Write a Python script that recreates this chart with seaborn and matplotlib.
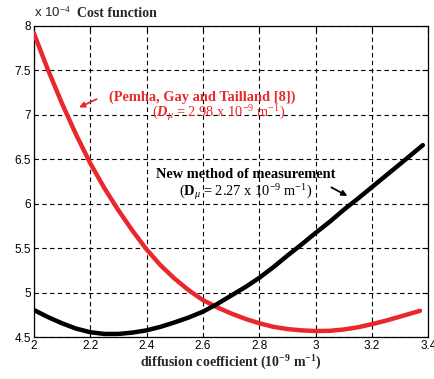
import matplotlib
matplotlib.use('Agg')
import matplotlib.pyplot as plt
import seaborn as sns
import pandas as pd

# cost function values, in units of 1e-4
x_red = [2.0, 2.05, 2.1, 2.15, 2.2, 2.25, 2.3, 2.35, 2.4, 2.45, 2.5, 2.55, 2.6, 2.65, 2.7,
         2.75, 2.8, 2.85, 2.9, 2.95, 3.0, 3.05, 3.1, 3.15, 3.2, 3.25, 3.3, 3.37]
cost_red = [7.92, 7.51, 7.13, 6.78, 6.46, 6.18, 5.93, 5.70, 5.49, 5.31, 5.16, 5.03, 4.92, 4.84, 4.77,
            4.71, 4.66, 4.62, 4.595, 4.58, 4.573, 4.575, 4.59, 4.615, 4.65, 4.69, 4.735, 4.80]

x_black = [2.0, 2.05, 2.1, 2.15, 2.2, 2.25, 2.3, 2.35, 2.4, 2.45, 2.5, 2.55, 2.6, 2.65, 2.7,
           2.75, 2.8, 2.85, 2.9, 2.95, 3.0, 3.05, 3.1, 3.15, 3.2, 3.25, 3.3, 3.38]
cost_black = [4.81, 4.73, 4.66, 4.60, 4.56, 4.54, 4.54, 4.555, 4.58, 4.62, 4.67, 4.725, 4.79, 4.875, 4.97,
              5.065, 5.17, 5.29, 5.42, 5.545, 5.675, 5.80, 5.935, 6.06, 6.19, 6.32, 6.45, 6.66]

xticks = [2, 2.2, 2.4, 2.6, 2.8, 3, 3.2, 3.4]
xticklabels = ['2', '2.2', '2.4', '2.6', '2.8', '3', '3.2', '3.4']
yticks = [4.5, 5, 5.5, 6, 6.5, 7, 7.5, 8]
yticklabels = ['4.5', '5', '5.5', '6', '6.5', '7', '7.5', '8']

sns.set_style('white')
plt.rcParams['font.family'] = ['Liberation Sans', 'DejaVu Sans']
plt.rcParams['mathtext.fontset'] = 'custom'
plt.rcParams['mathtext.rm'] = 'Liberation Serif'
plt.rcParams['mathtext.it'] = 'Liberation Serif:italic'
plt.rcParams['mathtext.bf'] = 'Liberation Serif:bold'
plt.rcParams['mathtext.bfit'] = 'Liberation Serif:bold:italic'

red = '#e8282b'
serif = 'Liberation Serif'

fig = plt.figure(figsize=(4.35, 3.79), dpi=100)
ax = fig.add_axes([0.0775, 0.1095, 0.9075, 0.8225])

df_red = pd.DataFrame({'x': x_red, 'cost': cost_red})
df_black = pd.DataFrame({'x': x_black, 'cost': cost_black})
sns.lineplot(data=df_red, x='x', y='cost', color=red, lw=3.2, ax=ax, zorder=3)
sns.lineplot(data=df_black, x='x', y='cost', color='black', lw=3.2, ax=ax, zorder=3)

ax.set_xlim(2, 3.4)
ax.set_ylim(4.5, 8)
ax.set_xticks(xticks)
ax.set_xticklabels(xticklabels)
ax.set_yticks(yticks)
ax.set_yticklabels(yticklabels)
ax.tick_params(direction='in', length=4, width=0.8, labelsize=8.5, pad=2,
               top=True, right=True, colors='black')
ax.grid(True, linestyle=(0, (4, 3)), color='black', lw=0.8)
for s in ax.spines.values():
    s.set_color('black')
    s.set_linewidth(0.9)
ax.set_xlabel(r'diffusion coefficient (10$^{\mathbf{-9}}$ m$^{\mathbf{-1}}$)',
              family=serif, weight='bold', fontsize=10, labelpad=1)
ax.set_ylabel('')

fig.text(0.078, 0.955, r'x 10$^{-4}$', fontsize=9.5, va='baseline',
         family='Liberation Sans')
fig.text(0.178, 0.955, 'Cost function', family=serif, weight='bold',
         fontsize=10, va='baseline')

# red annotation
ax.text(2.598, 7.20, '(Pemha, Gay and Tailland [8])', color=red, family=serif,
        weight='bold', fontsize=10.4, ha='center', va='center')
ax.text(2.655, 7.02, r'($\mathbfit{D}_{\mu}$ = 2.98 x 10$^{-9}$ m$^{-1}$)', color=red,
        family=serif, fontsize=10.4, ha='center', va='center')
ax.annotate('', xy=(2.152, 7.07), xytext=(2.232, 7.19),
            arrowprops=dict(arrowstyle='-|>', color=red, lw=1.3, mutation_scale=8))

# black annotation
ax.text(2.751, 6.326, 'New method of measurement', color='black', family=serif,
        weight='bold', fontsize=10.4, ha='center', va='center')
ax.text(2.751, 6.135, r'($\mathbf{D}_{\mu}$ = 2.27 x 10$^{-9}$ m$^{-1}$)', color='black',
        family=serif, fontsize=10.4, ha='center', va='center')
ax.annotate('', xy=(3.121, 6.075), xytext=(3.047, 6.20),
            arrowprops=dict(arrowstyle='-|>', color='black', lw=1.3, mutation_scale=8))

fig.savefig('out.png', dpi=100)
